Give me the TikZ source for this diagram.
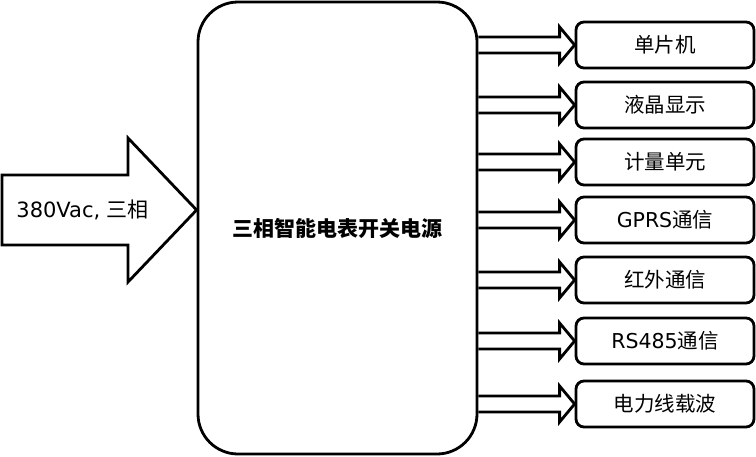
\documentclass[tikz,border=0pt]{standalone}
\usepackage{fontspec}
\setmainfont{DejaVu Sans}
\newfontfamily\cjk{Noto Sans CJK SC}
\usetikzlibrary{calc}
\begin{document}
\begin{tikzpicture}[x=1pt,y=-1pt, line width=2.8pt, line join=miter,
  outbox/.style={draw, rounded corners=8pt, minimum width=178pt, minimum height=46pt, inner sep=0pt, font=\fontsize{20.5}{22}\selectfont},
  mainbox/.style={draw, rounded corners=40pt, minimum width=279pt, minimum height=452pt, inner sep=0pt, font=\cjk\bfseries\fontsize{21}{24}\selectfont},
  intext/.style={anchor=west, inner sep=0pt, font=\fontsize{21}{24}\selectfont},
  fat/.style={draw, line join=miter}]
\useasboundingbox (0,0) rectangle (756,456);
\node[mainbox] (main) at (337.5,228) {三相智能电表开关电源};
\node[outbox] (b1) at (665,45)  {\cjk 单片机};
\node[outbox] (b2) at (665,105) {\cjk 液晶显示};
\node[outbox] (b3) at (665,162) {\cjk 计量单元};
\node[outbox] (b4) at (665,220) {GPRS{\cjk 通信}};
\node[outbox] (b5) at (665,280) {\cjk 红外通信};
\node[outbox] (b6) at (665,341) {RS485{\cjk 通信}};
\node[outbox] (b7) at (665,404) {\cjk 电力线载波};
\node[intext] (in) at (15,210) {380Vac, {\cjk 三相}};
\draw[fat] (2,175) -- (128,175) -- (128,138) -- (main.west |- in.west) -- (128,282) -- (128,245) -- (2,245) -- cycle;
\foreach \i in {1,...,7}{
  \draw[fat] ($(main.east |- b\i.west)+(0,-8)$) -- ($(b\i.west)+(-15,-8)$) -- ($(b\i.west)+(-15,-18)$)
    -- (b\i.west) -- ($(b\i.west)+(-15,18)$) -- ($(b\i.west)+(-15,8)$) -- ($(main.east |- b\i.west)+(0,8)$);
}
\end{tikzpicture}
\end{document}
